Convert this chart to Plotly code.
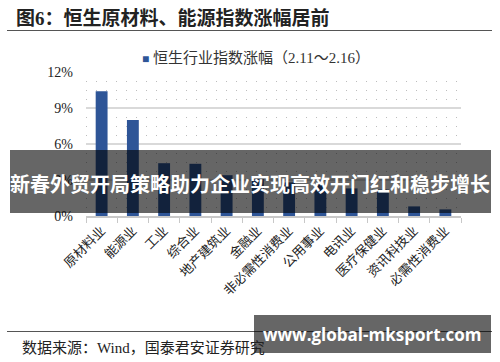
import plotly.graph_objects as go

categories = ["原材料业", "能源业", "工业", "综合业", "地产建筑业", "金融业",
              "非必需性消费业", "公用事业", "电讯业", "医疗保健业", "资讯科技业", "必需性消费业"]
values = [10.4, 8.0, 4.4, 4.35, 3.4, 3.1, 2.8, 2.6, 2.3, 2.2, 0.8, 0.55]
series_name = "恒生行业指数涨幅（2.11～2.16）"
y_ticks = [0, 3, 6, 9, 12]

W, H = 500, 362
L, R, T, B = 86, 461, 72, 216  # plot area in pixels
BAR_COLOR = "#2E5597"


def px(x):
    return (x - L) / (R - L)


def py(y):
    return (B - y) / (B - T)


CJK = "Noto Sans CJK SC"
SERIF = "Liberation Serif, " + CJK

fig = go.Figure()
fig.add_trace(go.Bar(
    x=categories, y=values, name=series_name,
    marker=dict(color=BAR_COLOR, line=dict(width=0)),
    showlegend=False,
))

fig.update_layout(
    width=W, height=H,
    margin=dict(l=L, r=W - R, t=T, b=H - B, pad=0),
    paper_bgcolor="white", plot_bgcolor="white",
    bargap=0.62,
    showlegend=False,
    xaxis=dict(showline=True, linecolor="#C8C8C8", linewidth=2,
               ticks="outside", tickson="boundaries", ticklen=5, tickcolor="#C8C8C8", tickwidth=1,
               tickangle=-45, tickfont=dict(family=SERIF, size=13, color="#222"),
               showgrid=False),
    yaxis=dict(range=[0, 12], tickvals=y_ticks, ticktext=[f"{v}%" for v in y_ticks],
               tickfont=dict(family="Liberation Serif", size=14, color="#222"),
               showgrid=True, gridcolor="#D9D9D9", gridwidth=1.5,
               zeroline=False, showline=False, ticks="", ticklabelstandoff=12,
               minor=dict(dtick=0.75, tick0=0, showgrid=True, gridcolor="#BDBDBD",
                          griddash="1px,9px", gridwidth=1)),
)

shapes = [
    dict(type="line", xref="paper", yref="paper", x0=px(7), x1=px(492), y0=py(30.5), y1=py(30.5),
         line=dict(color="#555", width=1.2)),
    dict(type="line", xref="paper", yref="paper", x0=px(7), x1=px(492), y0=py(331.5), y1=py(331.5),
         line=dict(color="#555", width=1.2)),
    dict(type="rect", xref="paper", yref="paper", x0=px(10), x1=px(491), y0=py(150), y1=py(213),
         fillcolor="rgba(0,0,0,0.6)", line=dict(width=0), layer="above"),
    dict(type="rect", xref="paper", yref="paper", x0=px(254), x1=px(491), y0=py(315), y1=py(353),
         fillcolor="rgba(0,0,0,0.6)", line=dict(width=0), layer="above"),
]
fig.update_layout(shapes=shapes)

annotations = [
    dict(text="<b>图6：恒生原材料、能源指数涨幅居前</b>", xref="paper", yref="paper",
         x=px(14), y=py(18), xanchor="left", yanchor="middle", showarrow=False,
         font=dict(family=SERIF, size=19, color="#222")),
    dict(text=f"<span style='color:{BAR_COLOR};font-size:12px'>■</span> {series_name}",
         xref="paper", yref="paper",
         x=px(140), y=py(58), xanchor="left", yanchor="middle", showarrow=False,
         font=dict(family=SERIF, size=15, color="#333")),
    dict(text="数据来源：Wind，国泰君安证券研究", xref="paper", yref="paper",
         x=px(20), y=py(348), xanchor="left", yanchor="middle", showarrow=False,
         font=dict(family=SERIF, size=15, color="#222")),
    dict(text="<b>新春外贸开局策略助力企业实现高效开门红和稳步增长</b>", xref="paper", yref="paper",
         x=px(250), y=py(183), xanchor="center", yanchor="middle", showarrow=False,
         font=dict(family=CJK, size=20, color="white")),
    dict(text="<b>www.global-mksport.com</b>", xref="paper", yref="paper",
         x=px(372), y=py(334), xanchor="center", yanchor="middle", showarrow=False,
         font=dict(family="Open Sans", size=17, color="white")),
]
fig.update_layout(annotations=annotations)

fig.write_html("out.html")
